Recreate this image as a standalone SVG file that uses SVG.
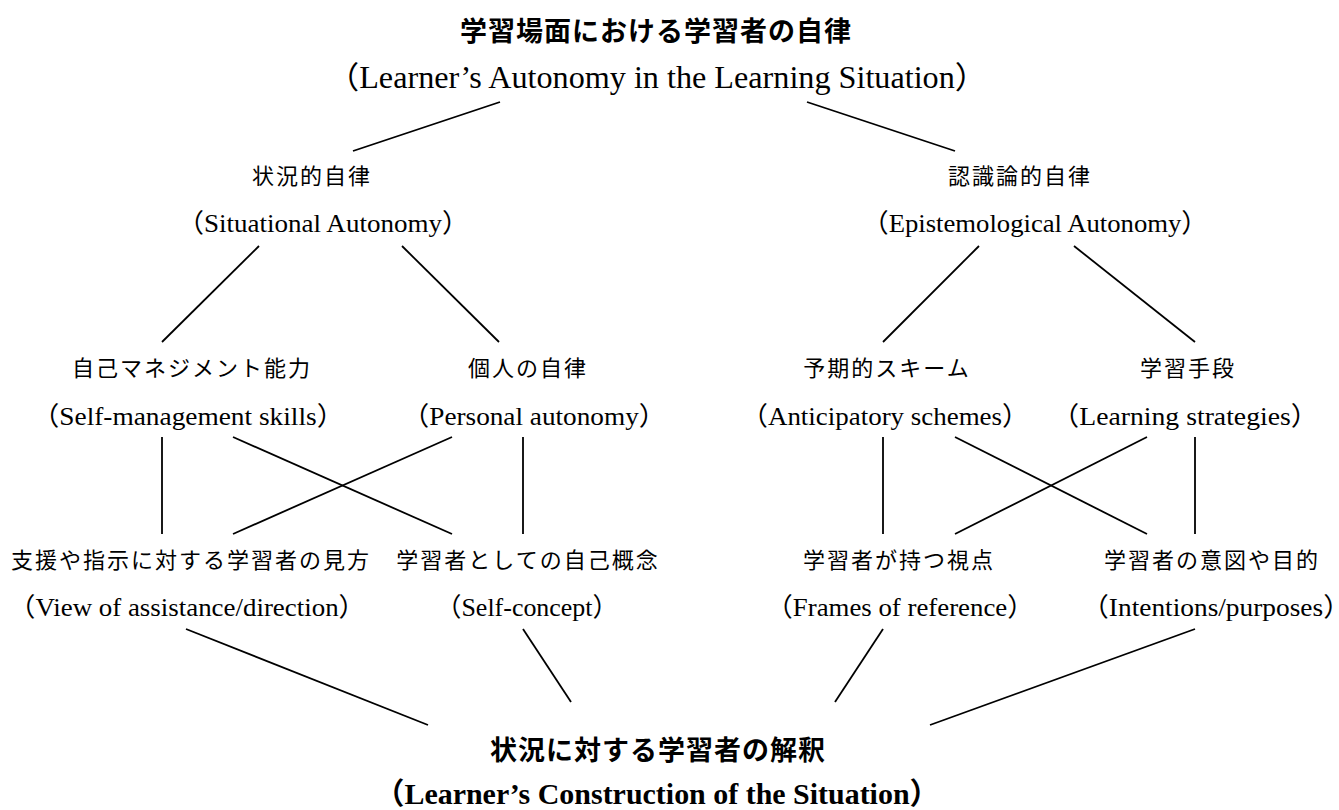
<svg xmlns="http://www.w3.org/2000/svg" width="1339" height="810" viewBox="0 0 1339 810">
<style>
.bg{fill:#ffffff}
text{fill:#000;text-anchor:middle}
.cj{font-family:"Noto Sans CJK JP","Noto Sans CJK SC",sans-serif;font-size:22px;letter-spacing:2px}
.cjb{font-family:"Noto Sans CJK JP","Noto Sans CJK SC",sans-serif;font-size:27px;font-weight:bold;letter-spacing:1px}
.en{font-family:"Liberation Serif","Noto Sans CJK JP",serif;font-size:26px}
.ent{font-family:"Liberation Serif","Noto Sans CJK JP",serif;font-size:31px}
.enb{font-family:"Liberation Serif","Noto Sans CJK JP",serif;font-size:30px;font-weight:bold}
.c line{stroke:#000;stroke-width:1.8;fill:none}
</style>
<rect class="bg" x="0" y="0" width="1339" height="810"/>
<g id="connectors" class="c">
<line x1="500" y1="102" x2="353" y2="151"/>
<line x1="807" y1="102" x2="955" y2="151"/>
<line x1="259" y1="246" x2="162" y2="342"/>
<line x1="402" y1="246" x2="499" y2="342"/>
<line x1="979" y1="246" x2="883" y2="342"/>
<line x1="1074" y1="246" x2="1195" y2="342"/>
<line x1="162" y1="437" x2="162" y2="534"/>
<line x1="233" y1="437" x2="452" y2="534"/>
<line x1="452" y1="437" x2="233" y2="534"/>
<line x1="523" y1="437" x2="523" y2="534"/>
<line x1="883" y1="437" x2="883" y2="534"/>
<line x1="955" y1="437" x2="1147" y2="534"/>
<line x1="1147" y1="437" x2="955" y2="534"/>
<line x1="1195" y1="437" x2="1195" y2="534"/>
<line x1="186" y1="629" x2="428" y2="725"/>
<line x1="523" y1="629" x2="571" y2="702"/>
<line x1="883" y1="629" x2="835" y2="702"/>
<line x1="1195" y1="629" x2="930" y2="725"/>
</g>
<g id="root">
<text class="cjb" x="656" y="41">学習場面における学習者の自律</text>
<text class="ent" x="657" y="88" textLength="660" lengthAdjust="spacingAndGlyphs">（Learner’s Autonomy in the Learning Situation）</text>
</g>
<g id="situational">
<text class="cj" x="312" y="184">状況的自律</text>
<text class="en" x="323" y="232" textLength="292" lengthAdjust="spacingAndGlyphs">（Situational Autonomy）</text>
</g>
<g id="epistemological">
<text class="cj" x="1020" y="184">認識論的自律</text>
<text class="en" x="1035" y="232" textLength="346" lengthAdjust="spacingAndGlyphs">（Epistemological Autonomy）</text>
</g>
<g id="self-management">
<text class="cj" x="192" y="376">自己マネジメント能力</text>
<text class="en" x="188" y="425" textLength="312" lengthAdjust="spacingAndGlyphs">（Self-management skills）</text>
</g>
<g id="personal">
<text class="cj" x="528" y="376">個人の自律</text>
<text class="en" x="534" y="425" textLength="264" lengthAdjust="spacingAndGlyphs">（Personal autonomy）</text>
</g>
<g id="anticipatory">
<text class="cj" x="887" y="376">予期的スキーム</text>
<text class="en" x="885" y="425" textLength="288" lengthAdjust="spacingAndGlyphs">（Anticipatory schemes）</text>
</g>
<g id="strategies">
<text class="cj" x="1188" y="376">学習手段</text>
<text class="en" x="1185" y="425" textLength="267" lengthAdjust="spacingAndGlyphs">（Learning strategies）</text>
</g>
<g id="view">
<text class="cj" x="191" y="568">支援や指示に対する学習者の見方</text>
<text class="en" x="187" y="616" textLength="357" lengthAdjust="spacingAndGlyphs">（View of assistance/direction）</text>
</g>
<g id="self-concept">
<text class="cj" x="528" y="568">学習者としての自己概念</text>
<text class="en" x="527" y="616" textLength="183" lengthAdjust="spacingAndGlyphs">（Self-concept）</text>
</g>
<g id="frames">
<text class="cj" x="899" y="568">学習者が持つ視点</text>
<text class="en" x="900" y="616" textLength="268" lengthAdjust="spacingAndGlyphs">（Frames of reference）</text>
</g>
<g id="intentions">
<text class="cj" x="1212" y="568">学習者の意図や目的</text>
<text class="en" x="1216" y="616" textLength="269" lengthAdjust="spacingAndGlyphs">（Intentions/purposes）</text>
</g>
<g id="construction">
<text class="cjb" x="658" y="760">状況に対する学習者の解釈</text>
<text class="enb" x="657" y="804" textLength="565" lengthAdjust="spacingAndGlyphs">（Learner’s Construction of the Situation）</text>
</g>
</svg>
